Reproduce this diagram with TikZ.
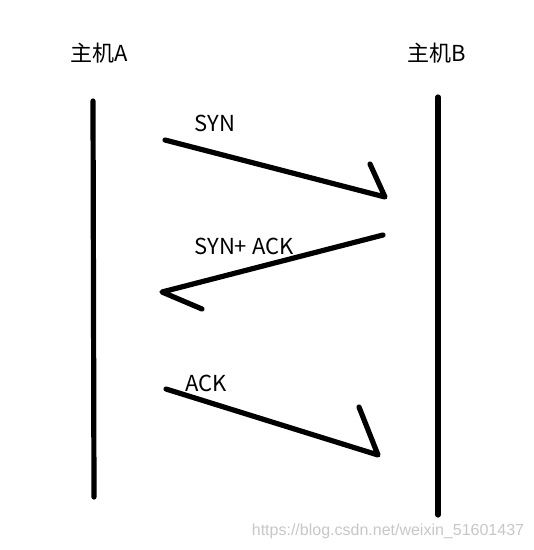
\documentclass[tikz,border=0pt]{standalone}
\usepackage{fontspec}
\setmainfont{Noto Sans CJK SC}
\newfontfamily\wmfont{Liberation Sans}
\begin{document}
\begin{tikzpicture}[x=1pt,y=-1pt,
  stroke/.style={line width=5.2pt,line cap=round,line join=round,black},
  lbl/.style={inner sep=0pt,font=\fontsize{22}{26}\selectfont}]
\useasboundingbox (0,0) rectangle (534,550);
% lifelines
\coordinate (a1) at (93,101);
\coordinate (a2) at (94,497);
\coordinate (b1) at (438,97);
\coordinate (b2) at (438,515);
\draw[stroke] (a1) -- (a2);
\draw[stroke] (b1) -- (b2);
\node[lbl] (hA) at (99,53) {主机A};
\node[lbl] (hB) at (437,53) {主机B};
% SYN
\coordinate (s1) at (165,140);
\coordinate (s2) at (385,197);
\coordinate (s3) at (370,164);
\draw[stroke] (s1) -- (s2) -- (s3);
\node[lbl] (lsyn) at (215,123) {SYN};
% SYN+ACK
\coordinate (k1) at (383,235);
\coordinate (k2) at (162,292);
\coordinate (k3) at (202,309);
\draw[stroke] (k1) -- (k2) -- (k3);
\node[lbl] (lsynack) at (244,246) {SYN+ ACK};
% ACK
\coordinate (c1) at (166,389);
\coordinate (c2) at (378,455);
\coordinate (c3) at (359,407);
\draw[stroke] (c1) -- (c2) -- (c3);
\node[lbl] (lack) at (206,383) {ACK};
% watermark
\node[inner sep=0pt,text=black!22,font=\wmfont\fontsize{16}{19}\selectfont] (wm) at (388,531) {https://blog.csdn.net/weixin\_51601437};
\end{tikzpicture}
\end{document}
